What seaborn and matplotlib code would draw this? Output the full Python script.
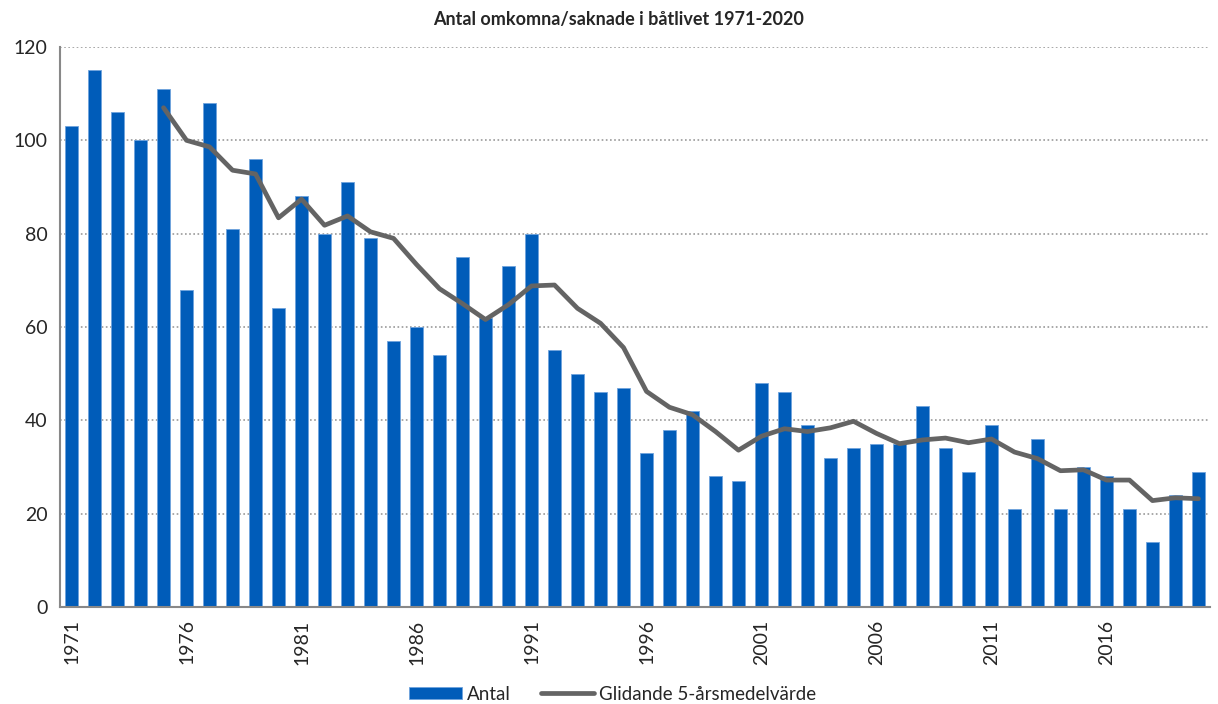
import numpy as np
import pandas as pd
import matplotlib.pyplot as plt
import seaborn as sns

# Antal omkomna/saknade per år
years = list(range(1971, 2021))
antal = [103, 115, 106, 100, 111, 68, 108, 81, 96, 64,
         88, 80, 91, 79, 57, 60, 54, 75, 62, 73,
         80, 55, 50, 46, 47, 33, 38, 42, 28, 27,
         48, 46, 39, 32, 34, 35, 35, 43, 34, 29,
         39, 21, 36, 21, 30, 28, 21, 14, 24, 29]

# Glidande 5-årsmedelvärde, från 1975
avg_years = list(range(1975, 2021))
avg = [107.0, 100.0, 98.6, 93.6, 92.8, 83.4, 87.4, 81.8, 83.8, 80.4,
       79.0, 73.4, 68.2, 65.0, 61.6, 64.8, 68.8, 69.0, 64.0, 60.8,
       55.6, 46.2, 42.8, 41.2, 37.6, 33.6, 36.6, 38.2, 37.6, 38.4,
       39.8, 37.2, 35.0, 35.8, 36.2, 35.2, 36.0, 33.2, 31.8, 29.2,
       29.4, 27.2, 27.2, 22.8, 23.4, 23.2]

title = "Antal omkomna/saknade i båtlivet 1971-2020"
bar_color = "#005CB9"
line_color = "#646464"

sns.set_style("white")
plt.rcParams["font.family"] = ["Lato", "DejaVu Sans"]

df = pd.DataFrame({"year": years, "antal": antal})
df_avg = pd.DataFrame({"pos": [y - years[0] for y in avg_years], "avg": avg})

fig = plt.figure(figsize=(12.18, 7.04), dpi=100)
ax = fig.add_axes([0.0493, 0.1378, 0.9441, 0.7954])

sns.barplot(data=df, x="year", y="antal", color=bar_color, saturation=1, width=0.57,
            edgecolor="#6FA3DD", linewidth=0.6, ax=ax, label="Antal", zorder=2)
sns.lineplot(data=df_avg, x="pos", y="avg", color=line_color, linewidth=3.4,
             solid_capstyle="round", ax=ax, label="Glidande 5-årsmedelvärde", zorder=3)

ax.set_xlim(-0.5, len(years) - 0.5)
ax.set_ylim(0, 120)
ax.set_yticks(range(0, 121, 20))
ax.yaxis.grid(True, linestyle=(0, (1, 1.5)), color="#9A9A9A", linewidth=1.2, zorder=0)
ax.set_axisbelow(True)

# etiketter var femte år, små streck varannan kategori
pos = np.arange(len(years))
ax.set_xticks(pos[::5])
ax.set_xticklabels([str(y) for y in years[::5]], rotation=90)
ax.set_xticks(np.arange(-0.5, len(years), 2), minor=True)
ax.tick_params(axis="x", which="major", length=0, pad=9, labelsize=14)
ax.tick_params(axis="x", which="minor", length=6, width=1.2, color="#888888", direction="out")
ax.tick_params(axis="y", length=6, width=1.2, color="#888888", labelsize=14, pad=3)

for side in ["top", "right"]:
    ax.spines[side].set_visible(False)
for side in ["left", "bottom"]:
    ax.spines[side].set_color("#888888")
    ax.spines[side].set_linewidth(1.5)

ax.set_xlabel("")
ax.set_ylabel("")
ax.legend_.remove()

handles, labels = ax.get_legend_handles_labels()
order = [labels.index("Antal"), labels.index("Glidande 5-årsmedelvärde")]
fig.legend([handles[i] for i in order], [labels[i] for i in order],
           loc="lower center", bbox_to_anchor=(0.503, -0.022), ncol=2,
           frameon=False, fontsize=13.5, handlelength=2.8, handleheight=0.55,
           columnspacing=1.6, handletextpad=0.3)

fig.text(0.508, 0.972, title, ha="center", va="center", fontsize=13, fontweight="bold")

fig.savefig("out.png", dpi=100)
